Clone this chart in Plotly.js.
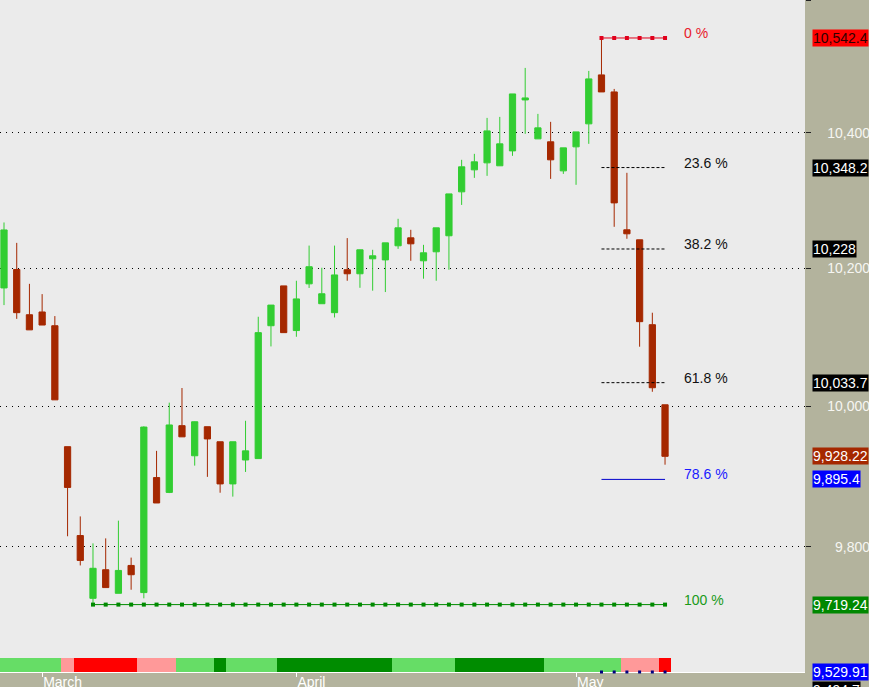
<!DOCTYPE html>
<html><head><meta charset="utf-8">
<script src="https://cdn.plot.ly/plotly-3.0.1.min.js"></script>
<style>html,body{margin:0;padding:0;overflow:hidden;background:#b3b39d;}#chart{width:876px;height:687px;}</style>
</head><body><div id="chart"></div>
<script>
// ---- data ----
const monthNames = ['March', 'April', 'May'];
const monthStart = [3, 23, 45];

const open  = [10171,10198,10132,10136,10116,9942,9816,9728,9768,9735,9774,9736,9898,9877,9972,9929,9970.5,9949,9889,9923,9925,10116,10174,10109,10177,10148,10135,10197.6,10191.7,10213.6,10212,10232.7,10244.4,10210.7,10223.9,10247.4,10312.2,10344.8,10355.2,10350.8,10373,10449.1,10390.9,10386.5,10343.3,10379,10413.3,10486.7,10461.1,10256.2,10241.5,10117.5,10001.9];
const high  = [10267,10237,10177,10162,10130,9942,9843,9805,9812,9837,9785,9971,9936,10005,10026,9978,9970.5,9949,9949,9979,10129,10146,10174,10181.5,10233,10200.5,10233,10244,10227,10226.8,10237,10272.4,10256.2,10234.1,10259.1,10309.2,10359.7,10368.6,10422.2,10423.7,10458.1,10497.2,10428.2,10416.3,10377.5,10401.3,10492.7,10542.4,10465.6,10340.4,10241.5,10134.9,10001.9];
const low   = [10146,10126,10110,10117,10009,9815,9774,9719.24,9743,9735,9740,9728,9862,9876,9956,9915,9899,9876.5,9871,9906,9925,10086,10106,10100,10171,10148,10128,10181.5,10171.2,10167,10165,10228.2,10210.7,10184.5,10181.5,10197.6,10292.9,10332.9,10335.9,10350.8,10365.6,10398.4,10390.9,10331.4,10338.8,10322.6,10383.5,10461.1,10260.6,10243,10085.6,10020.6,9916.3];
const close = [10256,10135,10110,10117,10009,9884,9781,9770,9743,9767,9761,9970,9862,9973,9956,9977.6,9953,9889,9949,9936,10106,10146,10106,10155,10202,10162.5,10190,10191.7,10226.8,10218,10237,10259.1,10235.6,10222.4,10259.1,10309.2,10349.3,10356.7,10402.8,10383.5,10458.1,10452.1,10407.3,10359.7,10377.5,10401.3,10480.7,10461.1,10295.9,10250.3,10121.9,10026.4,9928.22];

// indicator band state per bar: L light green, D dark green, P pink, R red
const bandState = ['L','L','L','L','L','P','R','R','R','R','R','P','P','P','L','L','L','D','L','L','L','L',
  'D','D','D','D','D','D','D','D','D','L','L','L','L','L','D','D','D','D','D','D','D','L','L','L','L','L','L','P','P','P','R'];
const bandColor = {L:'#66dd66', D:'#008c00', P:'#ff9999', R:'#ff0000'};

const priceTicks = [9800, 10000, 10200, 10400, 10600];
const priceTickText = ['9,800', '10,000', '10,200', '10,400', '10,600'];

const fibLabels = ['0 %', '23.6 %', '38.2 %', '61.8 %', '78.6 %', '100 %'];
const fibLevels = [10542.4, 10348.2, 10228, 10033.7, 9895.4, 9719.24];
const fibColors = ['#e0001b', '#000000', '#000000', '#000000', '#0000cc', '#008a00'];
const fibText   = ['#e8202a', '#111111', '#111111', '#111111', '#1a1aff', '#1a9a1a'];
const fibDash   = ['solid', '3px,2px', '3px,2px', '3px,2px', 'solid', 'solid'];
const fibStart  = [47, 47, 47, 47, 47, 7];
const fibEnd    = 52;

const tagValues = [10542.4, 10348.2, 10228, 10033.7, 9928.22, 9895.4, 9719.24];
const tagText   = ['10,542.4', '10,348.2', '10,228', '10,033.7', '9,928.22', '9,895.4', '9,719.24'];
const tagBg     = ['#ff0000', '#000000', '#000000', '#000000', '#a52800', '#0000ff', '#008800'];
const tagFg     = ['#300000', '#ffffff', '#ffffff', '#ffffff', '#ffffff', '#ffffff', '#ffffff'];
const pinnedText = ['9,529.91', '9,494.7'];
const pinnedBg   = ['#0000ff', '#000000'];

// ---- geometry ----
const W = 876, H = 687, plotW = 805, plotH = 672;
const yRange = [Math.log10(9625.7), Math.log10(10600)];
const idx = open.map((_, i) => i);
const FONT = 'Liberation Sans, Arial, sans-serif';

const traces = [];
traces.push({
  type: 'bar', x: idx, y: bandState.map(() => 1), width: 1,
  marker: {color: bandState.map(s => bandColor[s]), line: {width: 0}},
  xaxis: 'x', yaxis: 'y2', hoverinfo: 'skip'
});
const dotX = [];
for (let i = fibStart[0]; i <= fibEnd; i++) dotX.push(i);
traces.push({
  type: 'scatter', mode: 'markers', x: dotX, y: dotX.map(() => 0),
  marker: {symbol: 'square', size: 3, color: '#000080'}, cliponaxis: false,
  xaxis: 'x', yaxis: 'y2', hoverinfo: 'skip'
});
traces.push({
  type: 'candlestick', x: idx, open: open, high: high, low: low, close: close,
  increasing: {line: {color: '#32cd32', width: 1}, fillcolor: '#32cd32'},
  decreasing: {line: {color: '#a52800', width: 1}, fillcolor: '#a52800'},
  whiskerwidth: 0, xaxis: 'x', yaxis: 'y', hoverinfo: 'skip'
});
fibLevels.forEach((lv, k) => {
  const xs = [];
  for (let i = fibStart[k]; i <= fibEnd; i++) xs.push(i);
  const withMarkers = (k === 0 || k === fibLevels.length - 1);
  traces.push({
    type: 'scatter', mode: withMarkers ? 'lines+markers' : 'lines',
    x: xs, y: xs.map(() => lv),
    line: {color: fibColors[k], width: 1, dash: fibDash[k]},
    marker: {symbol: 'square', size: 4, color: fibColors[k]},
    xaxis: 'x', yaxis: 'y3', hoverinfo: 'skip'
  });
});

const annotations = [];
fibLevels.forEach((lv, k) => {
  annotations.push({
    x: 53.35, xref: 'x', y: Math.log10(lv), yref: 'y', xanchor: 'left', yanchor: 'middle',
    yshift: 5, showarrow: false, text: fibLabels[k],
    font: {family: FONT, size: 14, color: fibText[k]}
  });
});
tagValues.forEach((v, k) => {
  annotations.push({
    x: 812 / W, xref: 'paper', y: Math.log10(v), yref: 'y', xanchor: 'left', yanchor: 'middle',
    showarrow: false, text: tagText[k], bgcolor: tagBg[k], borderpad: 0,
    font: {family: FONT, size: 14, color: tagFg[k]}
  });
});
pinnedText.forEach((t, k) => {
  annotations.push({
    x: 812 / W, xref: 'paper', y: k === 0 ? 0 : -18 / plotH, yref: 'paper', xanchor: 'left', yanchor: 'middle',
    showarrow: false, text: t, bgcolor: pinnedBg[k], borderpad: 0,
    font: {family: FONT, size: 14, color: '#ffffff'}
  });
});

const layout = {
  width: W, height: H,
  margin: {l: 0, r: 0, t: 0, b: H - plotH, pad: 0},
  paper_bgcolor: '#b3b39d', plot_bgcolor: '#ebebeb',
  showlegend: false, boxgap: 0.3, bargap: 0,
  font: {family: FONT, size: 14, color: '#ffffff'},
  xaxis: {
    domain: [0, plotW / W], range: [-0.315, 63.01], type: 'linear',
    showgrid: false, zeroline: false, showline: true, linecolor: '#ffffff', linewidth: 1,
    ticks: 'outside', ticklen: 4, tickcolor: '#ffffff', tickwidth: 1,
    tickvals: monthStart, ticktext: monthNames, ticklabelposition: 'outside right',
    ticklabelstandoff: -3,
    tickfont: {color: '#ffffff', size: 14},
    rangeslider: {visible: false}, fixedrange: true
  },
  yaxis: {
    type: 'log', range: yRange, domain: [0, 1], side: 'right',
    showgrid: true, gridcolor: '#000000', griddash: '1px,5px', gridwidth: 1,
    ticks: 'outside', ticklen: 5, tickcolor: '#222222',
    tickvals: priceTicks, showticklabels: false, zeroline: false, showline: false, fixedrange: true
  },
  yaxis2: {domain: [0, 14 / plotH], range: [0, 1], visible: false, fixedrange: true},
  yaxis3: {
    type: 'log', range: yRange, overlaying: 'y', side: 'left', anchor: 'free', position: 870 / W,
    showgrid: false, ticks: '', tickvals: priceTicks, ticktext: priceTickText,
    tickfont: {color: '#f6f6f2', size: 14}, zeroline: false, showline: false, fixedrange: true
  },
  annotations: annotations
};

Plotly.newPlot('chart', traces, layout, {staticPlot: true, displayModeBar: false});
</script>
</body></html>
